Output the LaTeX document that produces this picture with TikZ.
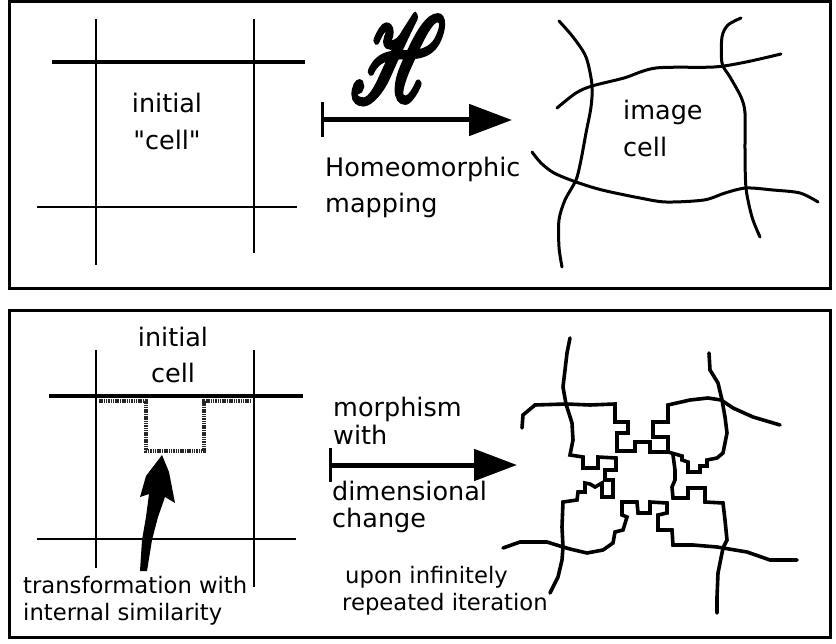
\documentclass[tikz,border=0pt]{standalone}
\usepackage{fontspec}
\setmainfont{DejaVu Sans}
\newfontfamily\qfont{DejaVu Sans}
\usepackage{mathrsfs}
\usepackage{graphicx}
\usetikzlibrary{arrows.meta}
\newcommand{\heavyH}{\special{pdf:code 2 Tr 0.55 w}$\mathscr{H}$\special{pdf:code 0 Tr}}
\newcommand{\padH}{\kern0.4pt\raisebox{0pt}[\dimexpr\height+0.4pt][\dimexpr\depth+0.4pt]{\heavyH}\kern0.4pt}
\begin{document}
\begin{tikzpicture}[x=1pt,y=-1pt]
\tikzset{
  frame/.style={draw, line width=3pt},
  gline/.style={line width=2.2pt},
  gthick/.style={line width=3.6pt},
  wavy/.style={line width=3pt, line cap=round, line join=round},
  jag/.style={line width=3.6pt, line cap=round, line join=miter},
  big/.style={font=\fontsize{25.5}{30}\selectfont, inner sep=0pt},
  small/.style={font=\fontsize{22.7}{27}\selectfont, inner sep=0pt},
  mapshaft/.style={line width=5pt, -{Triangle[length=43pt,width=31pt]}},
  mapbar/.style={line width=3pt},
  notch/.style={line width=3.5pt, black!85, dash pattern=on 1.5pt off 0.8pt},
}
\useasboundingbox (0,0) rectangle (836,644);
\fill[white] (0,0) rectangle (836,644);

% frames
\draw[frame] (9,2) rectangle (830,289);
\draw[frame] (9,311) rectangle (830,637);

% ===== top panel =====
\draw[gline] (96,19) -- (96,265);
\draw[gline] (254,19) -- (254,253);
\draw[gthick] (52,62) -- (305,62);
\draw[gline] (37,207) -- (297,207);
\node[big, anchor=base] (tinit) at (167,113) {initial};
\node[big, anchor=base] (tcell) at (167,150) {\qfont "cell"};

\node[inner sep=0pt] (H) at (398,59) {\resizebox{100pt}{88pt}{\padH}};
\coordinate (m1a) at (322,120);
\coordinate (m1b) at (512,120);
\draw[mapbar] (322,102) -- (322,137);
\draw[mapshaft] (m1a) -- (m1b);
\node[big, anchor=base west] (thomeo) at (325,177) {Homeomorphic};
\node[big, anchor=base west] (tmap) at (325,213) {mapping};

\draw[wavy] plot[smooth] coordinates {(559,21) (573,37) (586,57) (592,85) (591,107) (586,133) (581,160) (576,180) (565,200) (559,220) (559,247) (562,267)};
\draw[wavy] plot[smooth] coordinates {(741,18) (728,25) (722,37) (722,63) (730,77) (741,97) (745,113) (745,150) (746,188) (752,217) (760,237)};
\draw[wavy] plot[smooth] coordinates {(557,108) (576,93) (592,86) (624,78) (656,68) (714,67) (746,62) (781,54)};
\draw[wavy] plot[smooth] coordinates {(532,152) (541,163) (554,173) (576,182) (602,190) (640,198) (666,202) (704,200) (725,193) (746,188) (773,190) (800,193) (818,202)};
\node[big, anchor=base west] (timage) at (623,120) {image};
\node[big, anchor=base west] (tcell2) at (623,157) {cell};

% ===== bottom panel =====
\draw[gline] (96,350) -- (96,568);
\draw[gline] (254,350) -- (254,587);
\draw[gthick] (49,396) -- (303,396);
\draw[gline] (37,539) -- (296,539);
\node[big, anchor=base] (binit) at (173,347) {initial};
\node[big, anchor=base] (bcell) at (173,383) {cell};
\draw[notch] (99,401) -- (146,401) -- (146,451) -- (204,451) -- (204,401) -- (250,401);
% thick curved arrow
\fill (162,455) -- (169,472) -- (175,503) -- (165,497) -- (158,517) -- (152,540) -- (147,571) -- (140,571) -- (142,540) -- (146,517) -- (149,494) -- (140,497) -- (146,476) -- cycle;
\node[small, anchor=base west] (ttrans) at (23,593) {transformation with};
\node[small, anchor=base west] (tint) at (23,620) {internal similarity};

\coordinate (m2a) at (330,465);
\coordinate (m2b) at (517,465);
\draw[mapbar] (330,448) -- (330,482);
\draw[mapshaft] (m2a) -- (m2b);
\node[big, anchor=base west] (tmorph) at (333,417) {morphism};
\node[big, anchor=base west] (twith) at (333,445) {with};
\node[big, anchor=base west] (tdim) at (332,500) {dimensional};
\node[big, anchor=base west] (tchange) at (332,527) {change};
\node[small, anchor=base west] (tupon) at (345,583) {upon infinitely};
\node[small, anchor=base west] (trep) at (342,610) {repeated iteration};

% fractal image
\draw[jag] (570,338) -- (567,353) -- (563,387) -- (566,404) -- (572,423) -- (573,440) -- (570,455) -- (583,457) -- (583,468) -- (598,468) -- (598,457) -- (616,458) -- (616,470) -- (605,470) -- (605,480) -- (613,480) -- (613,497) -- (602,497) -- (602,483) -- (595,487) -- (590,484) -- (585,483) -- (585,492) -- (578,492) -- (577,500) -- (563,502) -- (562,527) -- (563,547) -- (562,560) -- (558,577) -- (550,593);
\draw[jag] (522,428) -- (523,415) -- (535,405) -- (566,404) -- (590,405) -- (615,404) -- (615,422) -- (628,422) -- (628,433) -- (617,433) -- (617,451) -- (635,451) -- (635,442) -- (650,442) -- (650,452) -- (668,452) -- (668,437) -- (653,437) -- (653,422) -- (668,422) -- (668,405) -- (690,400) -- (708,398) -- (721,400) -- (733,408) -- (753,417) -- (780,425);
\draw[jag] (709,353) -- (710,370) -- (718,383) -- (722,400) -- (725,417) -- (727,433) -- (723,453) -- (717,458) -- (707,460) -- (707,466) -- (700,466) -- (700,472) -- (688,472) -- (688,462) -- (682,460) -- (682,456) -- (668,452);
\draw[jag] (673,455) -- (675,470) -- (675,480) -- (672,487) -- (673,498) -- (688,498) -- (688,488) -- (705,488) -- (705,502) -- (723,503) -- (725,520) -- (727,540) -- (723,548) -- (718,573) -- (717,597) -- (717,613);
\draw[jag] (503,548) -- (520,542) -- (547,542) -- (563,547) -- (570,549) -- (587,553) -- (603,550) -- (613,543) -- (615,532) -- (623,530) -- (627,517) -- (622,515) -- (622,502) -- (637,502) -- (638,513) -- (650,513) -- (650,502) -- (667,503) -- (667,513) -- (658,515) -- (658,530) -- (672,530) -- (673,545) -- (693,545) -- (717,547) -- (723,548) -- (747,552) -- (770,560) -- (797,560);
\end{tikzpicture}
\end{document}
